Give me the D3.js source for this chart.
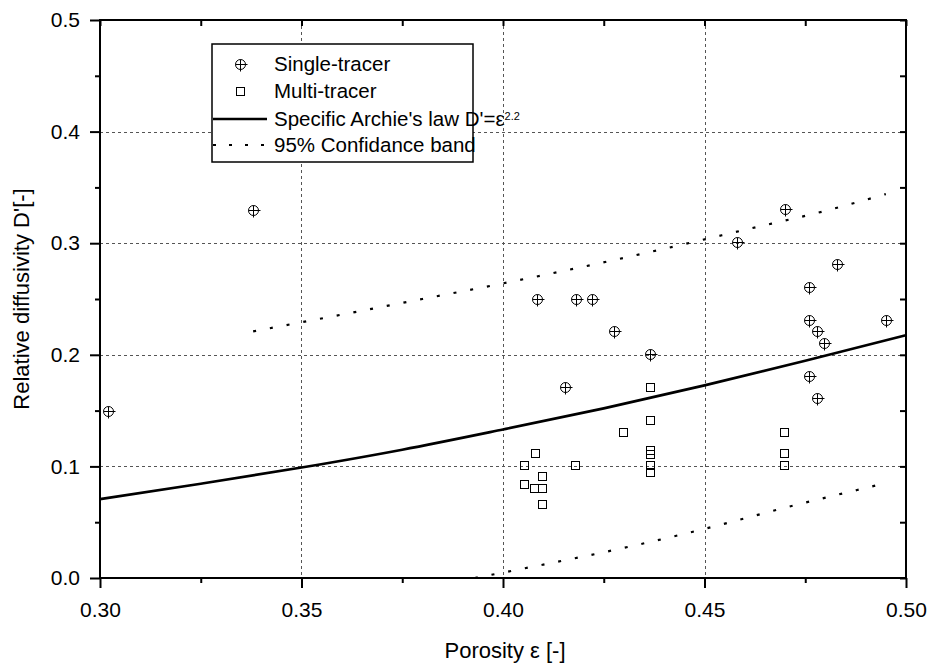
<!DOCTYPE html>
<html>
<head>
<meta charset="utf-8">
<script src="https://cdn.jsdelivr.net/npm/d3@7/dist/d3.min.js"></script>
<style>
  html, body { margin: 0; padding: 0; background: #fff; }
  svg { display: block; font-family: "Liberation Sans", Arial, sans-serif; }
</style>
</head>
<body>
<svg id="chart" width="931" height="666"></svg>
<script>
// ---- data ----
const singleX = [0.302, 0.338, 0.4085, 0.418, 0.422, 0.4276, 0.4155, 0.4366, 0.458, 0.470, 0.483, 0.476, 0.476, 0.4778, 0.4797, 0.495, 0.476, 0.4778];
const singleY = [0.150, 0.330, 0.250, 0.250, 0.250, 0.221, 0.171, 0.201, 0.301, 0.331, 0.281, 0.261, 0.231, 0.221, 0.211, 0.231, 0.181, 0.161];

const multiX = [0.4366, 0.4366, 0.4299, 0.4079, 0.4053, 0.4179, 0.4098, 0.4053, 0.4078, 0.4098, 0.4098, 0.4366, 0.4366, 0.4366, 0.4366, 0.4698, 0.4698, 0.4698];
const multiY = [0.1714, 0.1416, 0.131, 0.1117, 0.1013, 0.1013, 0.0914, 0.0842, 0.0809, 0.0809, 0.0663, 0.1145, 0.111, 0.1013, 0.0953, 0.131, 0.1117, 0.1013];

// Archie's law curve
const archieX = [0.30, 0.325, 0.35, 0.375, 0.40, 0.425, 0.45, 0.475, 0.50];
const archieY = [0.0707, 0.0845, 0.099, 0.115, 0.1331, 0.152, 0.1726, 0.1947, 0.2176];

// 95% confidence band
const upperX = [0.338, 0.36, 0.38, 0.40, 0.42, 0.44, 0.46, 0.48, 0.495];
const upperY = [0.221, 0.236, 0.250, 0.264, 0.279, 0.295, 0.312, 0.329, 0.344];
const lowerX = [0.393, 0.41, 0.43, 0.45, 0.47, 0.495];
const lowerY = [0.000, 0.012, 0.027, 0.044, 0.063, 0.085];

const xTicks = [0.30, 0.35, 0.40, 0.45, 0.50];
const xTickLabels = ["0.30", "0.35", "0.40", "0.45", "0.50"];
const yTicks = [0.0, 0.1, 0.2, 0.3, 0.4, 0.5];
const yTickLabels = ["0.0", "0.1", "0.2", "0.3", "0.4", "0.5"];
const xMinor = [0.325, 0.375, 0.425, 0.475];
const yMinor = [0.05, 0.15, 0.25, 0.35, 0.45];

const legendLabels = ["Single-tracer", "Multi-tracer", "Specific Archie's law D'=ε", "95% Confidance band"];

// ---- layout ----
const svg = d3.select("#chart");
const m = { left: 100, right: 25, top: 20, bottom: 88 };
const W = 931, H = 666;
const x = d3.scaleLinear().domain([0.30, 0.50]).range([m.left, W - m.right]);
const y = d3.scaleLinear().domain([0.0, 0.5]).range([H - m.bottom, m.top]);
const x0 = x.range()[0], x1 = x.range()[1], y0 = y.range()[0], y1 = y.range()[1];

// grid
const grid = svg.append("g").attr("stroke", "#555").attr("stroke-width", 1).attr("stroke-dasharray", "3,3");
grid.selectAll("line.gx").data(xTicks.slice(1, -1)).join("line")
  .attr("x1", d => Math.round(x(d)) + 0.5).attr("x2", d => Math.round(x(d)) + 0.5)
  .attr("y1", y1).attr("y2", y0);
grid.selectAll("line.gy").data(yTicks.slice(1, -1)).join("line")
  .attr("y1", d => Math.round(y(d)) + 0.5).attr("y2", d => Math.round(y(d)) + 0.5)
  .attr("x1", x0).attr("x2", x1);

// lines
const line = d3.line().x(d => x(d[0])).y(d => y(d[1])).curve(d3.curveMonotoneX);
const archie = archieX.map((v, i) => [v, archieY[i]]);
const upper = upperX.map((v, i) => [v, upperY[i]]);
const lower = lowerX.map((v, i) => [v, lowerY[i]]);

svg.append("path").datum(archie).attr("d", line)
  .attr("fill", "none").attr("stroke", "#000").attr("stroke-width", 2.6);
[upper, lower].forEach(seg => {
  svg.append("path").datum(seg).attr("d", line)
    .attr("fill", "none").attr("stroke", "#000").attr("stroke-width", 2.2)
    .attr("stroke-dasharray", "3,14").attr("stroke-linecap", "butt");
});

// markers
function crossCircle(g, cx, cy) {
  g.append("circle").attr("cx", cx).attr("cy", cy).attr("r", 5)
    .attr("fill", "none").attr("stroke", "#000").attr("stroke-width", 1);
  g.append("line").attr("x1", cx - 5).attr("x2", cx + 7).attr("y1", cy).attr("y2", cy)
    .attr("stroke", "#000").attr("stroke-width", 1);
  g.append("line").attr("x1", cx).attr("x2", cx).attr("y1", cy - 5).attr("y2", cy + 7)
    .attr("stroke", "#000").attr("stroke-width", 1);
}
function square(g, cx, cy) {
  g.append("rect").attr("x", cx - 4).attr("y", cy - 4).attr("width", 8).attr("height", 8)
    .attr("fill", "none").attr("stroke", "#000").attr("stroke-width", 1);
}
const gS = svg.append("g");
singleX.forEach((v, i) => crossCircle(gS, Math.round(x(v)) + 0.5, Math.round(y(singleY[i])) + 0.5));
const gM = svg.append("g");
multiX.forEach((v, i) => square(gM, Math.round(x(v)) + 0.5, Math.round(y(multiY[i])) + 0.5));

// frame & axes
const axStyle = g => g.call(s => s.select(".domain").remove())
  .selectAll("line").attr("stroke", "#000").attr("stroke-width", 2);

const bottom = svg.append("g").attr("transform", `translate(0,${y0})`)
  .call(d3.axisBottom(x).tickValues(xTicks).tickFormat((d, i) => xTickLabels[i]).tickSize(10).tickPadding(14));
bottom.call(axStyle);
svg.append("g").attr("transform", `translate(0,${y0})`)
  .call(d3.axisBottom(x).tickValues(xMinor).tickFormat("").tickSize(5)).call(axStyle);

const left = svg.append("g").attr("transform", `translate(${x0},0)`)
  .call(d3.axisLeft(y).tickValues(yTicks).tickFormat((d, i) => yTickLabels[i]).tickSize(10).tickPadding(10));
left.call(axStyle);
svg.append("g").attr("transform", `translate(${x0},0)`)
  .call(d3.axisLeft(y).tickValues(yMinor).tickFormat("").tickSize(5)).call(axStyle);

svg.append("g").attr("transform", `translate(${x1},0)`)
  .call(d3.axisLeft(y).tickValues(yTicks.concat(yMinor)).tickFormat("").tickSize(6)).call(axStyle);
svg.append("g").attr("transform", `translate(0,${y1})`)
  .call(d3.axisBottom(x).tickValues(xTicks.concat(xMinor)).tickFormat("").tickSize(6)).call(axStyle);

svg.selectAll(".tick text").attr("font-size", 21).attr("fill", "#000")
  .attr("font-family", "Liberation Sans, Arial, sans-serif");

svg.append("rect").attr("x", x0).attr("y", y1).attr("width", x1 - x0).attr("height", y0 - y1)
  .attr("fill", "none").attr("stroke", "#000").attr("stroke-width", 2);

// axis titles
svg.append("text").attr("x", (x0 + x1) / 2 + 2).attr("y", 658).attr("text-anchor", "middle")
  .attr("font-size", 22).text("Porosity ε [-]");
svg.append("text").attr("transform", `translate(29,${(y0 + y1) / 2}) rotate(-90)`)
  .attr("text-anchor", "middle").attr("font-size", 22).text("Relative diffusivity D'[-]");

// legend
const lg = svg.append("g");
lg.append("rect").attr("x", 212).attr("y", 44).attr("width", 261).attr("height", 118)
  .attr("fill", "#fff").attr("stroke", "#000").attr("stroke-width", 1.5);
const rows = [64, 91, 119, 145];
crossCircle(lg, 240.5, rows[0] + 0.5);
square(lg, 240.5, rows[1] + 0.5);
lg.append("line").attr("x1", 213).attr("x2", 267).attr("y1", rows[2]).attr("y2", rows[2])
  .attr("stroke", "#000").attr("stroke-width", 2.6);
lg.append("line").attr("x1", 213).attr("x2", 270).attr("y1", rows[3]).attr("y2", rows[3])
  .attr("stroke", "#000").attr("stroke-width", 2.2).attr("stroke-dasharray", "3,13");
legendLabels.forEach((t, i) => {
  const tx = lg.append("text").attr("x", 274).attr("y", rows[i]).attr("dy", "0.35em")
    .attr("font-size", 20.5).text(t);
  if (i === 2) tx.append("tspan").attr("dy", "-0.55em").attr("font-size", 11).text("2.2");
});
</script>
</body>
</html>
